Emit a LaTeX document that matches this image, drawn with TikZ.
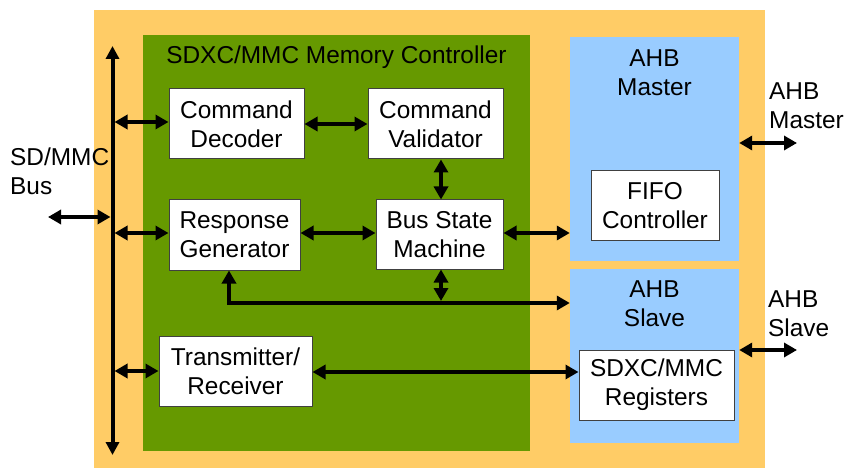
\documentclass[tikz,border=0pt]{standalone}
\usepackage{fontspec}
\setmainfont{Liberation Sans}
\usetikzlibrary{arrows.meta}
\definecolor{orangebg}{RGB}{255,204,102}
\definecolor{greenbg}{RGB}{102,153,0}
\definecolor{bluebg}{RGB}{153,204,255}
\definecolor{boxborder}{RGB}{64,64,64}
\tikzset{
  lbl/.style={font=\fontsize{24.4}{29}\selectfont, inner sep=0pt},
  block/.style={draw=boxborder, line width=1pt, fill=white, inner sep=0pt,
    align=center, font=\fontsize{24.4}{29}\selectfont},
  tipA/.tip={Triangle[length=13pt,width=14pt]},
  dbl/.style={line width=4pt, {tipA}-{tipA}},
  busline/.style={line width=4pt, {Triangle[length=13pt,width=13pt]}-{Triangle[length=13pt,width=13pt]}},
}
\begin{document}
\begin{tikzpicture}[x=1pt,y=-1pt]
\useasboundingbox (0,0) rectangle (847,468);
% backgrounds
\fill[orangebg] (94,10) rectangle (765,468);
\fill[greenbg] (143,35) rectangle (530,451);
\fill[bluebg] (570,37) rectangle (739,261);
\fill[bluebg] (570,269) rectangle (739,443);
\node (ahbm) at (654.5,149) [minimum width=169pt, minimum height=224pt, inner sep=0pt] {};
\node (ahbs) at (654.5,356) [minimum width=169pt, minimum height=174pt, inner sep=0pt] {};
% titles
\node[lbl, anchor=base] (title) at (336.5,64) {SDXC/MMC Memory Controller};
\node[lbl, anchor=base, align=center] (mt) at (654.5,96) {AHB\\Master};
\node[lbl, anchor=base, align=center] (st) at (654.5,326) {AHB\\Slave};
\node[lbl, anchor=base west, align=left] (sdl) at (10,195) {SD/MMC\\Bus};
\node[lbl, anchor=base west, align=left] (aml) at (769,129) {AHB\\Master};
\node[lbl, anchor=base west, align=left] (asl) at (768,336) {AHB\\Slave};
% blocks
\node[block, minimum width=135pt, minimum height=70pt] (cd) at (236.5,124) {Command\\Decoder};
\node[block, minimum width=135pt, minimum height=70pt] (cv) at (435.5,124) {Command\\Validator};
\node[block, minimum width=131pt, minimum height=70pt] (rg) at (234.5,235) {Response\\Generator};
\node[block, minimum width=127pt, minimum height=69pt] (bs) at (439.5,234.5) {Bus State\\Machine};
\node[block, minimum width=153pt, minimum height=70pt] (tr) at (235.5,371) {Transmitter/\\Receiver};
\node[block, minimum width=128pt, minimum height=70pt] (fifo) at (655,206) {FIFO\\Controller};
\node[block, minimum width=155pt, minimum height=70pt] (reg) at (656.5,385) {SDXC/MMC\\Registers};
% bus
\coordinate (bustop) at (112.5,46);
\coordinate (busbot) at (112.5,455);
\draw[busline] (bustop) -- (busbot);
\coordinate (b0) at (110.5,217);
\coordinate (ext0) at (48,217);
\draw[dbl] (ext0) -- (b0);
\coordinate (b1) at (114.5,122);
\coordinate (b2) at (114.5,233);
\coordinate (b3) at (114.5,371);
\draw[dbl] (b1) -- (b1 -| cd.west);
\draw[dbl] (b2) -- (b2 -| rg.west);
\draw[dbl] (b3) -- (b3 -| tr.west);
% internal
\draw[dbl] (cd.east) -- (cv.east -| cv.west);
\draw[dbl] (rg.east |- 0,233) -- (bs.west |- 0,233);
\draw[dbl] (441,0 |- cv.south) -- (441,0 |- bs.north);
\draw[dbl] (bs.east |- 0,233) -- (ahbm.west |- 0,233);
\coordinate (turn) at (229,303);
\draw[dbl, line join=miter] (turn |- rg.south) -- (turn) -- (turn -| ahbs.west);
\draw[dbl] (441,0 |- bs.south) -- (441,301);
\draw[dbl] (tr.east |- 0,372) -- (reg.west |- 0,372);
% external AHB
\coordinate (ext2) at (797,143);
\coordinate (ext3) at (797,350);
\draw[dbl] (ext2 -| ahbm.east) -- (ext2);
\draw[dbl] (ext3 -| ahbs.east) -- (ext3);
\end{tikzpicture}
\end{document}
